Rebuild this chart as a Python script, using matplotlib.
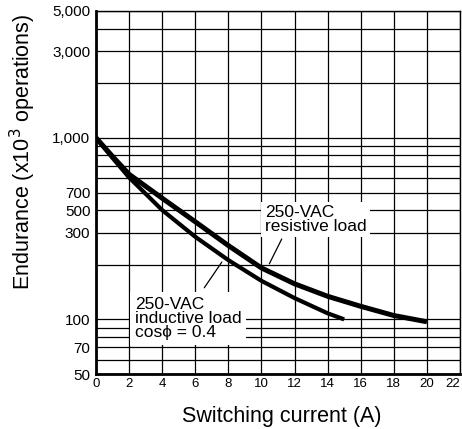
import matplotlib
matplotlib.use("Agg")
import matplotlib.pyplot as plt
import numpy as np

plt.rcParams['font.family'] = ['Liberation Sans', 'DejaVu Sans']

# Data
x_res = [0, 1, 2, 4, 6, 8, 10, 12, 14, 16, 18, 20]
y_res = [1000, 790, 630, 465, 345, 255, 192, 157, 134, 118, 105, 97]
x_ind = [0, 1, 2, 4, 6, 8, 10, 12, 14, 15]
y_ind = [1000, 775, 605, 400, 285, 212, 163, 131, 108, 100]

x_ticks = [0, 2, 4, 6, 8, 10, 12, 14, 16, 18, 20, 22]
y_tick_vals = [50, 70, 100, 300, 400, 500, 1000, 3000, 5000]
y_tick_labels = ['50', '70', '100', '300', '500', '700', '1,000', '3,000', '5,000']
y_grid_vals = [50, 60, 70, 80, 90, 100, 200, 300, 400, 500, 600, 700, 800, 900,
               1000, 2000, 3000, 4000, 5000]

fig = plt.figure(figsize=(4.62, 4.29), dpi=100)
ax = fig.add_axes([96/462, 55/429, 364/462, 363/429])
ax.set_yscale('log')
ax.set_xlim(0, 22)
ax.set_ylim(50, 5000)

for gx in x_ticks:
    ax.axvline(gx, color='black', lw=0.9, zorder=1)
for gy in y_grid_vals:
    ax.axhline(gy, color='black', lw=0.9, zorder=1)

ax.plot(x_res, y_res, color='black', lw=3.6, solid_capstyle='butt', zorder=3)
ax.plot(x_ind, y_ind, color='black', lw=3.0, solid_capstyle='butt', zorder=3)

ax.set_xticks(x_ticks)
ax.set_xticklabels([str(v) for v in x_ticks], fontsize=9.5)
ax.get_xticklabels()[-1].set_ha('right')
ax.set_yticks(y_tick_vals)
ax.set_yticklabels(y_tick_labels, fontsize=11)
ax.yaxis.set_minor_locator(matplotlib.ticker.NullLocator())
ax.tick_params(axis='both', length=0, pad=4)
ax.tick_params(axis='x', pad=3)

for s in ax.spines.values():
    s.set_linewidth(1.0)
ax.spines['left'].set_linewidth(2.0)
ax.spines['bottom'].set_linewidth(2.0)

ax.set_xlabel('Switching current (A)', fontsize=15.5)
ax.xaxis.set_label_coords(0.51, -0.118)
ax.xaxis.label.set_va('center')
ax.set_ylabel('Endurance (x10$^3$ operations)', fontsize=15.5)
ax.yaxis.set_label_coords(-0.2, 0.612)
ax.yaxis.label.set_va('center')

# Annotations
ax.text(10.2, 355, '250-VAC\nresistive load', fontsize=12.5, ha='left', va='center',
        linespacing=0.9, zorder=4,
        bbox=dict(facecolor='white', edgecolor='none', pad=2.5))
ax.annotate('', xy=(10.4, 196), xytext=(11.3, 286),
            arrowprops=dict(arrowstyle='-', color='black', lw=0.9), zorder=4)

ax.text(2.35, 101, '250-VAC\ninductive load\ncos\u03d5 = 0.4', fontsize=12.5, ha='left', va='center',
        linespacing=0.9, zorder=4,
        bbox=dict(facecolor='white', edgecolor='none', pad=3.5))
ax.annotate('', xy=(7.7, 213), xytext=(6.45, 145),
            arrowprops=dict(arrowstyle='-', color='black', lw=0.9), zorder=4)

fig.savefig('out.png', dpi=100)
